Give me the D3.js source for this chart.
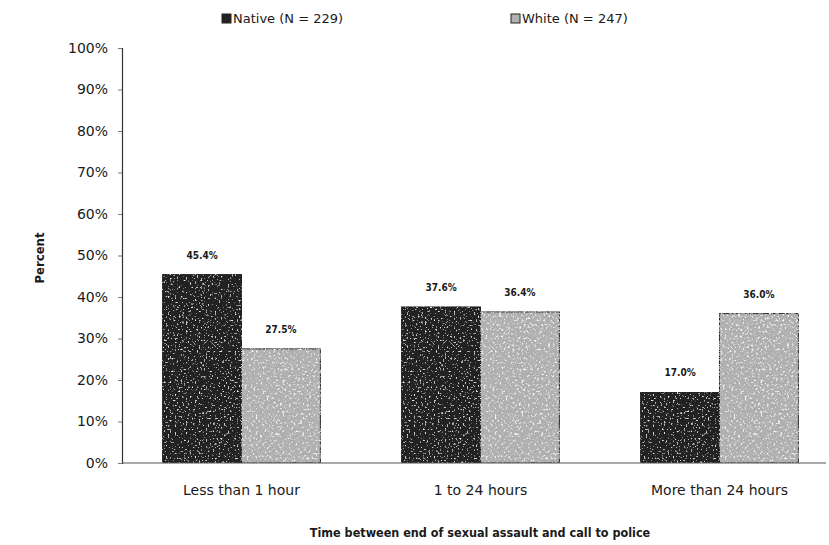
<!DOCTYPE html>
<html>
<head>
<meta charset="utf-8">
<script src="https://cdn.jsdelivr.net/npm/d3@7"></script>
<style>
  body { margin: 0; background: #fff; }
  text { font-family: "DejaVu Sans", sans-serif; fill: #1a1a1a; }
</style>
</head>
<body>
<script>
var categories = ["Less than 1 hour", "1 to 24 hours", "More than 24 hours"];
var seriesNames = ["Native (N = 229)", "White (N = 247)"];
var nativeVals = [45.4, 37.6, 17.0];
var whiteVals = [27.5, 36.4, 36.0];
var yTicks = [0, 10, 20, 30, 40, 50, 60, 70, 80, 90, 100];

var width = 829, height = 545;

var svg = d3.select("body").append("svg")
    .attr("width", width)
    .attr("height", height);

// grain filters to mimic the scanned textures
var defs = svg.append("defs");
var f1 = defs.append("filter").attr("id", "grainDark")
    .attr("x", 0).attr("y", 0).attr("width", 1).attr("height", 1);
f1.append("feTurbulence").attr("type", "fractalNoise")
    .attr("baseFrequency", 0.55).attr("numOctaves", 1).attr("seed", 3).attr("result", "n");
f1.append("feColorMatrix").attr("in", "n").attr("type", "matrix")
    .attr("values", "0 0 0 0 0.8  0 0 0 0 0.8  0 0 0 0 0.8  7 0 0 0 -4.3")
    .attr("result", "sp");
f1.append("feComposite").attr("in", "sp").attr("in2", "SourceGraphic").attr("operator", "in").attr("result", "sp2");
var m1 = f1.append("feMerge");
m1.append("feMergeNode").attr("in", "SourceGraphic");
m1.append("feMergeNode").attr("in", "sp2");

var f2 = defs.append("filter").attr("id", "grainLight")
    .attr("x", 0).attr("y", 0).attr("width", 1).attr("height", 1);
f2.append("feTurbulence").attr("type", "fractalNoise")
    .attr("baseFrequency", 0.45).attr("numOctaves", 2).attr("seed", 7).attr("result", "n");
f2.append("feColorMatrix").attr("in", "n").attr("type", "matrix")
    .attr("values", "0 0 0 0 0.4  0 0 0 0 0.4  0 0 0 0 0.4  -6 0 0 0 2.8")
    .attr("result", "dk");
f2.append("feColorMatrix").attr("in", "n").attr("type", "matrix")
    .attr("values", "0 0 0 0 0.9  0 0 0 0 0.9  0 0 0 0 0.9  6 0 0 0 -3.5")
    .attr("result", "lt");
f2.append("feComposite").attr("in", "dk").attr("in2", "SourceGraphic").attr("operator", "in").attr("result", "dk2");
f2.append("feComposite").attr("in", "lt").attr("in2", "SourceGraphic").attr("operator", "in").attr("result", "lt2");
var m2 = f2.append("feMerge");
m2.append("feMergeNode").attr("in", "SourceGraphic");
m2.append("feMergeNode").attr("in", "dk2");
m2.append("feMergeNode").attr("in", "lt2");

var x0 = d3.scaleBand()
    .domain(categories)
    .range([122, 839])
    .paddingInner(0.34)
    .paddingOuter(0.17);

var x1 = d3.scaleBand()
    .domain(seriesNames)
    .range([0, x0.bandwidth()]);

var y = d3.scaleLinear()
    .domain([0, 100])
    .range([463, 48]);

var fills = ["#222222", "#b2b2b2"];
var filters = ["url(#grainDark)", "url(#grainLight)"];

// y axis
var yAxis = svg.append("g")
    .attr("transform", "translate(122,0)")
    .call(d3.axisLeft(y).tickValues(yTicks).tickSize(4).tickPadding(10)
      .tickFormat(function(d) { return d + "%"; }));
yAxis.select(".domain").attr("stroke", "#333").attr("stroke-width", 1.2);
yAxis.selectAll(".tick line").attr("stroke", "#777");
yAxis.selectAll(".tick text")
    .style("font-size", "14px")
    .style("font-family", "\"DejaVu Sans\", sans-serif")
    .attr("fill", "#1a1a1a");

// bars
var groups = svg.selectAll(".grp")
    .data(categories)
    .enter().append("g")
      .attr("class", "grp")
      .attr("transform", function(d) { return "translate(" + x0(d) + ",0)"; });

var rows = categories.map(function(c, i) {
  return [
    { s: 0, name: seriesNames[0], v: nativeVals[i] },
    { s: 1, name: seriesNames[1], v: whiteVals[i] }
  ];
});

groups.selectAll("rect")
    .data(function(d, i) { return rows[i]; })
    .enter().append("rect")
      .attr("x", function(d) { return x1(d.name); })
      .attr("y", function(d) { return y(d.v); })
      .attr("width", x1.bandwidth())
      .attr("height", function(d) { return y(0) - y(d.v); })
      .attr("fill", function(d) { return fills[d.s]; })
      .attr("filter", function(d) { return filters[d.s]; })
      .attr("stroke", "#222")
      .attr("stroke-width", 1);

groups.selectAll(".val")
    .data(function(d, i) { return rows[i]; })
    .enter().append("text")
      .attr("class", "val")
      .attr("x", function(d) { return x1(d.name) + x1.bandwidth() / 2; })
      .attr("y", function(d) { return y(d.v) - 16; })
      .attr("text-anchor", "middle")
      .style("font-size", "10px")
      .style("font-weight", "bold")
      .style("font-family", "\"DejaVu Sans Condensed\", sans-serif")
      .text(function(d) { return d.v.toFixed(1) + "%"; });

// x axis
var xAxis = svg.append("g")
    .attr("transform", "translate(0,463)")
    .call(d3.axisBottom(x0).tickSize(0).tickPadding(22));
xAxis.select(".domain").attr("d", "M122,0H826").attr("stroke", "#555").attr("stroke-width", 1.2);
xAxis.selectAll(".tick text")
    .style("font-size", "14px")
    .style("font-family", "\"DejaVu Sans\", sans-serif")
    .attr("fill", "#1a1a1a");

// axis titles
svg.append("text")
    .attr("x", 480).attr("y", 537)
    .attr("text-anchor", "middle")
    .style("font-size", "12.5px")
    .style("font-weight", "bold")
    .style("font-family", "\"DejaVu Sans Condensed\", sans-serif")
    .text("Time between end of sexual assault and call to police");

svg.append("text")
    .attr("transform", "translate(44,258) rotate(-90)")
    .attr("text-anchor", "middle")
    .style("font-size", "13px")
    .style("font-weight", "bold")
    .style("font-family", "\"DejaVu Sans Condensed\", sans-serif")
    .text("Percent");

// legend
var legendX = [222, 511];
var leg = svg.selectAll(".leg")
    .data(seriesNames)
    .enter().append("g")
      .attr("class", "leg")
      .attr("transform", function(d, i) { return "translate(" + legendX[i] + ",14)"; });
leg.append("rect")
    .attr("width", 9).attr("height", 9)
    .attr("fill", function(d, i) { return fills[i]; })
    .attr("stroke", "#222");
leg.append("text")
    .attr("x", 11).attr("y", 9)
    .style("font-size", "13px")
    .text(function(d) { return d; });
</script>
</body>
</html>
